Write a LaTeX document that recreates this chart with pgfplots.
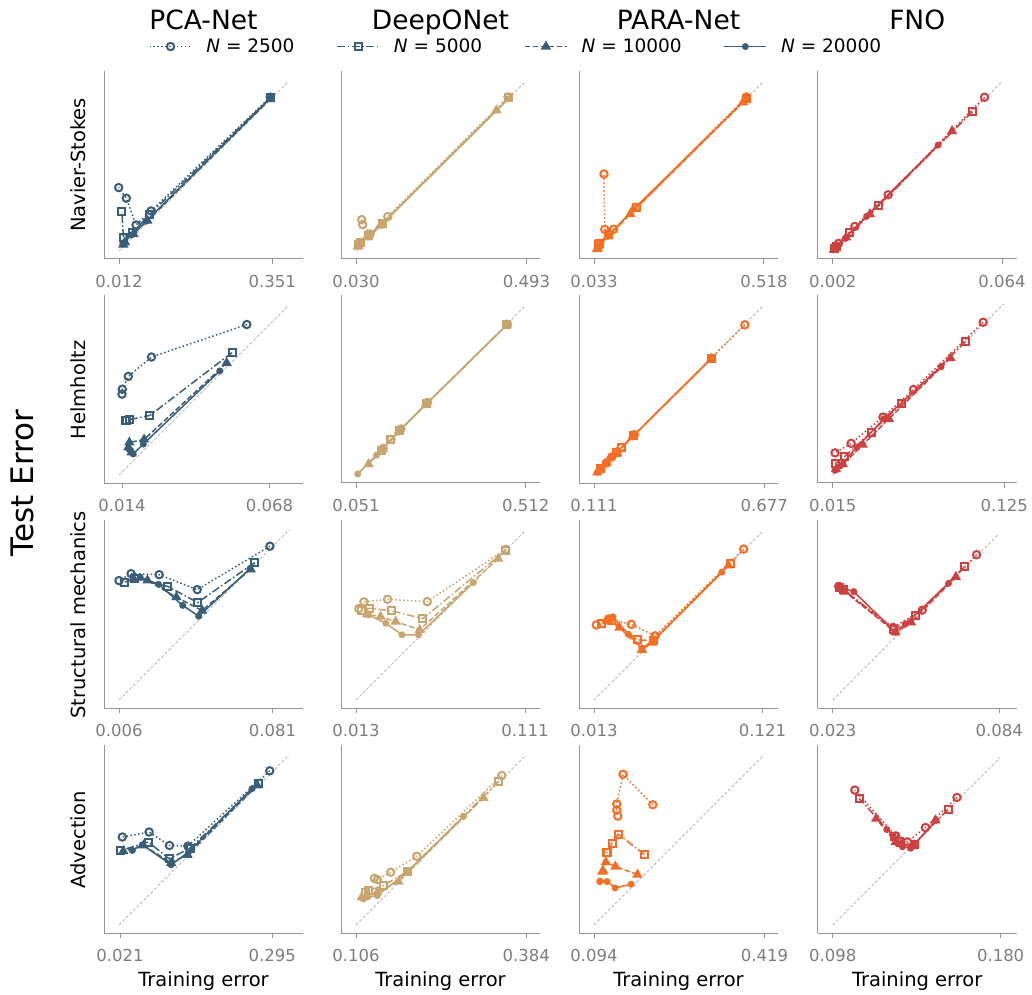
\documentclass[border=0pt]{standalone}
\usepackage{fontspec}
\setmainfont{DejaVu Sans}
\usepackage{pgfplots}
\pgfplotsset{compat=1.18}
\definecolor{cpca}{RGB}{59,94,120}
\definecolor{cdeep}{RGB}{200,165,110}
\definecolor{cpara}{RGB}{245,110,35}
\definecolor{cfno}{RGB}{205,65,65}
\definecolor{spine}{RGB}{150,150,150}
\definecolor{ticktext}{RGB}{125,125,125}
\newcommand\setpanel[2]{%
 \pgfmathsetmacro\pxmin{#1-15*#2}%
 \pgfmathsetmacro\pxmax{#1+184*#2}%
 \pgfmathsetmacro\pymin{#1-8*#2}%
 \pgfmathsetmacro\pymax{#1+180*#2}}
\pgfplotsset{
  panel/.style={scale only axis, width=199pt, height=188pt, anchor=south west,
    axis x line*=bottom, axis y line*=left,
    axis line style={draw=spine, line width=1pt, -},
    ytick=\empty, tick align=outside, major tick length=5pt,
    scaled x ticks=false, scaled y ticks=false,
    xtick style={draw=spine, line width=1pt},
    xticklabel style={text=ticktext, font=\fontsize{16.5}{19}\selectfont, yshift=-8pt},
    /pgf/number format/assume math mode=true,
    clip=false, xmin=\pxmin, xmax=\pxmax, ymin=\pymin, ymax=\pymax},
  diag/.style={forget plot, no markers, color=black!28, line width=0.9pt, dash pattern=on 3pt off 2pt},
  s1/.style={color=#1, line width=1.5pt, dash pattern=on 1.5pt off 2.4pt, mark=o, mark size=3.7pt, mark options={solid, line width=2pt}},
  s2/.style={color=#1, line width=1.5pt, dash pattern=on 8pt off 2.5pt on 1.5pt off 2.5pt, mark=square, mark size=3.5pt, mark options={solid, line width=2pt}},
  s3/.style={color=#1, line width=1.5pt, dash pattern=on 5.5pt off 2.5pt, mark=triangle*, mark size=4.5pt, mark options={solid}},
  s4/.style={color=#1, line width=1.5pt, solid, mark=*, mark size=2.7pt},
}
\begin{document}
\begin{tikzpicture}
\useasboundingbox (0,0) rectangle (1032pt,994pt);
% ================= Row 1: Navier-Stokes =================
\setpanel{0.012}{0.0022157}
\begin{axis}[panel, at={(104pt,735pt)}, xtick={0.012,0.351}, xticklabels={0.012,0.351},
  legend image code/.code={\draw[mark repeat=2,mark phase=2,#1] plot coordinates {(0pt,0pt) (21pt,0pt) (42pt,0pt)};},
  legend style={at={(2.070,1.13)}, anchor=center, draw=none, fill=none, legend columns=4,
    font=\fontsize{18.5}{22}\selectfont,
    /tikz/every odd column/.append style={column sep=12pt},
    /tikz/every even column/.append style={column sep=40pt}}]
\addplot[diag] coordinates {(0.012,0.012) (0.3876,0.3876)};
\addplot[s1=cpca] coordinates {(0.3466,0.3525) (0.0829,0.1006) (0.0497,0.0696) (0.0282,0.1288) (0.0113,0.1523)};
\addlegendentry{\textit{N} = 2500}
\addplot[s2=cpca] coordinates {(0.3466,0.3508) (0.0792,0.0925) (0.0423,0.0534) (0.0216,0.0423) (0.0186,0.0984)};
\addlegendentry{\textit{N} = 5000}
\addplot[s3=cpca] coordinates {(0.3466,0.3480) (0.0748,0.0791) (0.0437,0.0497) (0.0253,0.0313) (0.0216,0.0261)};
\addlegendentry{\textit{N} = 10000}
\addplot[s4=cpca] coordinates {(0.3466,0.3500) (0.0718,0.0778) (0.0401,0.0475) (0.0238,0.0313) (0.0202,0.0275)};
\addlegendentry{\textit{N} = 20000}
\end{axis}
\setpanel{0.030}{0.0027235}
\begin{axis}[panel, at={(341pt,735pt)}, xtick={0.030,0.493}, xticklabels={0.030,0.493}]
\addplot[diag] coordinates {(0.030,0.030) (0.4916,0.4916)};
\addplot[s1=cdeep] coordinates {(0.4431,0.4486) (0.1163,0.1234) (0.0681,0.0763) (0.0482,0.1017) (0.0455,0.1153)};
\addplot[s2=cdeep] coordinates {(0.4431,0.4459) (0.1027,0.1054) (0.0635,0.0717) (0.0409,0.0536) (0.0364,0.0473)};
\addplot[s3=cdeep] coordinates {(0.4113,0.4121) (0.0954,0.0990) (0.0590,0.0672) (0.0409,0.0491) (0.0345,0.0418)};
\addplot[s4=cdeep] coordinates {(0.4448,0.4440) (0.1000,0.1017) (0.0635,0.0690) (0.0427,0.0509) (0.0364,0.0445)};
\end{axis}
\setpanel{0.033}{0.002853}
\begin{axis}[panel, at={(579pt,735pt)}, xtick={0.033,0.518}, xticklabels={0.033,0.518}]
\addplot[diag] coordinates {(0.033,0.033) (0.5166,0.5166)};
\addplot[s1=cpara] coordinates {(0.4676,0.4724) (0.1538,0.1576) (0.0892,0.0949) (0.0635,0.0949) (0.0615,0.2527)};
\addplot[s2=cpara] coordinates {(0.4676,0.4695) (0.1538,0.1557) (0.0749,0.0787) (0.0492,0.0549) (0.0464,0.0510)};
\addplot[s3=cpara] coordinates {(0.4581,0.4572) (0.1366,0.1386) (0.0721,0.0749) (0.0435,0.0406) (0.0416,0.0387)};
\addplot[s4=cpara] coordinates {(0.4676,0.4676) (0.1461,0.1528) (0.0721,0.0749) (0.0464,0.0482) (0.0435,0.0435)};
\end{axis}
\setpanel{0.002}{0.000365}
\begin{axis}[panel, at={(817.7pt,735pt)}, xtick={0.002,0.064}, xticklabels={0.002,0.064}]
\addplot[diag] coordinates {(0.002,0.002) (0.0639,0.0639)};
\addplot[s1=cfno] coordinates {(0.0576,0.0583) (0.0223,0.0226) (0.0101,0.0110) (0.0041,0.0048) (0.0030,0.0035)};
\addplot[s2=cfno] coordinates {(0.0531,0.0530) (0.0187,0.0185) (0.0083,0.0086) (0.0035,0.0038) (0.0026,0.0028)};
\addplot[s3=cfno] coordinates {(0.0457,0.0459) (0.0156,0.0155) (0.0069,0.0070) (0.0031,0.0032) (0.0024,0.0025)};
\addplot[s4=cfno] coordinates {(0.0406,0.0408) (0.0144,0.0147) (0.0066,0.0066) (0.0029,0.0030) (0.0023,0.0024)};
\end{axis}
% ================= Row 2: Helmholtz =================
\setpanel{0.0129}{0.000365}
\begin{axis}[panel, at={(104pt,511pt)}, xtick={0.014,0.068}, xticklabels={0.014,0.068}]
\addplot[diag] coordinates {(0.0129,0.0129) (0.0748,0.0748)};
\addplot[s1=cpca] coordinates {(0.0597,0.0680) (0.0248,0.0561) (0.0163,0.0490) (0.0141,0.0443) (0.0140,0.0425)};
\addplot[s2=cpca] coordinates {(0.0543,0.0577) (0.0242,0.0347) (0.0167,0.0332) (0.0152,0.0329) (0.0158,0.0330)};
\addplot[s3=cpca] coordinates {(0.0523,0.0539) (0.0221,0.0259) (0.0167,0.0248) (0.0163,0.0230) (0.0175,0.0212)};
\addplot[s4=cpca] coordinates {(0.0498,0.0510) (0.0218,0.0242) (0.0181,0.0206) (0.0172,0.0218) (0.0167,0.0222)};
\end{axis}
\setpanel{0.051}{0.002712}
\begin{axis}[panel, at={(341pt,511pt)}, xtick={0.051,0.512}, xticklabels={0.051,0.512}]
\addplot[diag] coordinates {(0.051,0.051) (0.5107,0.5107)};
\addplot[s1=cdeep] coordinates {(0.4623,0.4597) (0.2454,0.2481) (0.1730,0.1760) (0.1459,0.1478) (0.1250,0.1230)};
\addplot[s2=cdeep] coordinates {(0.4610,0.4590) (0.2430,0.2450) (0.1703,0.1730) (0.1459,0.1478) (0.1200,0.1180)};
\addplot[s3=cdeep] coordinates {(0.4600,0.4580) (0.2420,0.2440) (0.1680,0.1700) (0.1234,0.1207) (0.0854,0.0808)};
\addplot[s4=cdeep] coordinates {(0.4590,0.4570) (0.2400,0.2420) (0.1650,0.1670) (0.1071,0.1052) (0.0556,0.0537)};
\end{axis}
\setpanel{0.111}{0.003329}
\begin{axis}[panel, at={(579pt,511pt)}, xtick={0.111,0.677}, xticklabels={0.111,0.677}]
\addplot[diag] coordinates {(0.111,0.111) (0.6753,0.6753)};
\addplot[s1=cpara] coordinates {(0.6127,0.6104) (0.2450,0.2450) (0.2019,0.2030) (0.1699,0.1710) (0.1520,0.1510)};
\addplot[s2=cpara] coordinates {(0.5028,0.4995) (0.2419,0.2419) (0.2019,0.2019) (0.1866,0.1866) (0.1333,0.1333)};
\addplot[s3=cpara] coordinates {(0.5010,0.4980) (0.2400,0.2390) (0.1866,0.1850) (0.1520,0.1510) (0.1220,0.1200)};
\addplot[s4=cpara] coordinates {(0.4990,0.4970) (0.2380,0.2370) (0.1699,0.1699) (0.1333,0.1320) (0.1220,0.1200)};
\end{axis}
\setpanel{0.015}{0.000647}
\begin{axis}[panel, at={(817.7pt,511pt)}, xtick={0.015,0.125}, xticklabels={0.015,0.125}]
\addplot[diag] coordinates {(0.015,0.015) (0.1247,0.1247)};
\addplot[s1=cfno] coordinates {(0.1114,0.1129) (0.0668,0.0698) (0.0472,0.0521) (0.0268,0.0353) (0.0165,0.0292)};
\addplot[s2=cfno] coordinates {(0.1002,0.1006) (0.0592,0.0607) (0.0396,0.0424) (0.0226,0.0268) (0.0165,0.0223)};
\addplot[s3=cfno] coordinates {(0.0905,0.0899) (0.0510,0.0510) (0.0342,0.0344) (0.0215,0.0219) (0.0171,0.0187)};
\addplot[s4=cfno] coordinates {(0.0844,0.0844) (0.0478,0.0510) (0.0305,0.0327) (0.0197,0.0208) (0.0165,0.0180)};
\end{axis}
% ================= Row 3: Structural mechanics =================
\setpanel{0.006}{0.000491}
\begin{axis}[panel, at={(104pt,286pt)}, xtick={0.006,0.081}, xticklabels={0.006,0.081}]
\addplot[diag] coordinates {(0.006,0.006) (0.0892,0.0892)};
\addplot[s1=cpca] coordinates {(0.0797,0.0811) (0.0442,0.0599) (0.0256,0.0672) (0.0119,0.0677) (0.0060,0.0643)};
\addplot[s2=cpca] coordinates {(0.0723,0.0731) (0.0444,0.0536) (0.0297,0.0615) (0.0135,0.0653) (0.0089,0.0636)};
\addplot[s3=cpca] coordinates {(0.0703,0.0698) (0.0466,0.0497) (0.0340,0.0562) (0.0199,0.0644) (0.0130,0.0653)};
\addplot[s4=cpca] coordinates {(0.0700,0.0702) (0.0449,0.0469) (0.0371,0.0522) (0.0253,0.0625) (0.0163,0.0660)};
\end{axis}
\setpanel{0.013}{0.000576}
\begin{axis}[panel, at={(341pt,286pt)}, xtick={0.013,0.111}, xticklabels={0.013,0.111}]
\addplot[diag] coordinates {(0.013,0.013) (0.1106,0.1106)};
\addplot[s1=cdeep] coordinates {(0.0998,0.1004) (0.0543,0.0700) (0.0313,0.0714) (0.0176,0.0699) (0.0146,0.0660)};
\addplot[s2=cdeep] coordinates {(0.0998,0.0998) (0.0518,0.0602) (0.0336,0.0647) (0.0211,0.0662) (0.0163,0.0647)};
\addplot[s3=cdeep] coordinates {(0.0955,0.0950) (0.0499,0.0537) (0.0360,0.0585) (0.0272,0.0614) (0.0195,0.0627)};
\addplot[s4=cdeep] coordinates {(0.0811,0.0811) (0.0493,0.0508) (0.0397,0.0508) (0.0303,0.0575) (0.0201,0.0624)};
\end{axis}
\setpanel{0.013}{0.000635}
\begin{axis}[panel, at={(579pt,286pt)}, xtick={0.013,0.121}, xticklabels={0.013,0.121}]
\addplot[diag] coordinates {(0.013,0.013) (0.1206,0.1206)};
\addplot[s1=cpara] coordinates {(0.1089,0.1097) (0.0522,0.0541) (0.0369,0.0615) (0.0223,0.0649) (0.0145,0.0611)};
\addplot[s2=cpara] coordinates {(0.1006,0.1006) (0.0509,0.0511) (0.0409,0.0515) (0.0240,0.0642) (0.0176,0.0621)};
\addplot[s3=cpara] coordinates {(0.0992,0.0992) (0.0500,0.0498) (0.0437,0.0452) (0.0293,0.0594) (0.0219,0.0636)};
\addplot[s4=cpara] coordinates {(0.0949,0.0949) (0.0504,0.0505) (0.0437,0.0462) (0.0350,0.0551) (0.0251,0.0663)};
\end{axis}
\setpanel{0.023}{0.000359}
\begin{axis}[panel, at={(817.7pt,286pt)}, xtick={0.023,0.084}, xticklabels={0.023,0.084}]
\addplot[diag] coordinates {(0.023,0.023) (0.0839,0.0839)};
\addplot[s1=cfno] coordinates {(0.0757,0.0762) (0.0558,0.0559) (0.0451,0.0496) (0.0256,0.0643) (0.0252,0.0646)};
\addplot[s2=cfno] coordinates {(0.0711,0.0717) (0.0532,0.0538) (0.0454,0.0487) (0.0268,0.0636) (0.0256,0.0643)};
\addplot[s3=cfno] coordinates {(0.0681,0.0681) (0.0517,0.0514) (0.0460,0.0478) (0.0274,0.0627) (0.0259,0.0639)};
\addplot[s4=cfno] coordinates {(0.0654,0.0657) (0.0496,0.0508) (0.0460,0.0478) (0.0307,0.0627) (0.0254,0.0645)};
\end{axis}
% ================= Row 4: Advection =================
\setpanel{0.0192}{0.001806}
\begin{axis}[panel, at={(104pt,61pt)}, xtick={0.021,0.295}, xticklabels={0.021,0.295}]
\addplot[diag] coordinates {(0.0192,0.0192) (0.3253,0.3253)};
\addplot[s1=cpca] coordinates {(0.2906,0.2968) (0.1433,0.1613) (0.1101,0.1624) (0.0734,0.1866) (0.0252,0.1776)};
\addplot[s2=cpca] coordinates {(0.2708,0.2739) (0.1474,0.1577) (0.1095,0.1384) (0.0721,0.1686) (0.0222,0.1534)};
\addplot[s3=cpca] coordinates {(0.2679,0.2708) (0.1426,0.1456) (0.1131,0.1312) (0.0631,0.1624) (0.0270,0.1523)};
\addplot[s4=cpca] coordinates {(0.2589,0.2648) (0.1444,0.1505) (0.1131,0.1276) (0.0613,0.1637) (0.0432,0.1534)};
\end{axis}
\setpanel{0.106}{0.001635}
\begin{axis}[panel, at={(341pt,61pt)}, xtick={0.106,0.384}, xticklabels={0.106,0.384}]
\addplot[diag] coordinates {(0.106,0.106) (0.3831,0.3831)};
\addplot[s1=cdeep] coordinates {(0.3442,0.3501) (0.2052,0.2183) (0.1627,0.1922) (0.1408,0.1801) (0.1359,0.1823)};
\addplot[s2=cdeep] coordinates {(0.3387,0.3403) (0.1905,0.1938) (0.1506,0.1703) (0.1261,0.1621) (0.1207,0.1595)};
\addplot[s3=cdeep] coordinates {(0.3141,0.3137) (0.1752,0.1768) (0.1408,0.1595) (0.1235,0.1551) (0.1153,0.1513)};
\addplot[s4=cdeep] coordinates {(0.2814,0.2831) (0.1889,0.1922) (0.1408,0.1540) (0.1250,0.1520) (0.1180,0.1485)};
\end{axis}
\setpanel{0.094}{0.001912}
\begin{axis}[panel, at={(579pt,61pt)}, xtick={0.094,0.419}, xticklabels={0.094,0.419}]
\addplot[diag] coordinates {(0.094,0.094) (0.4181,0.4181)};
\addplot[s1=cpara] coordinates {(0.2062,0.3234) (0.1494,0.3814) (0.1374,0.3248) (0.1374,0.3133) (0.1393,0.3018)};
\addplot[s2=cpara] coordinates {(0.1902,0.2285) (0.1399,0.2674) (0.1284,0.2502) (0.1189,0.2330) (0.1180,0.2320)};
\addplot[s3=cpara] coordinates {(0.1768,0.1902) (0.1348,0.2055) (0.1164,0.2138) (0.1112,0.1979) (0.1100,0.1960)};
\addplot[s4=cpara] coordinates {(0.1647,0.1718) (0.1342,0.1647) (0.1189,0.1768) (0.1049,0.1768) (0.1055,0.1778)};
\end{axis}
\setpanel{0.098}{0.000482}
\begin{axis}[panel, at={(817.7pt,61pt)}, xtick={0.098,0.180}, xticklabels={0.098,0.180}]
\addplot[diag] coordinates {(0.098,0.098) (0.1797,0.1797)};
\addplot[s1=cfno] coordinates {(0.1587,0.1603) (0.1433,0.1456) (0.1345,0.1386) (0.1288,0.1415) (0.1088,0.1639)};
\addplot[s2=cfno] coordinates {(0.1543,0.1544) (0.1377,0.1375) (0.1304,0.1386) (0.1280,0.1410) (0.1109,0.1598)};
\addplot[s3=cfno] coordinates {(0.1481,0.1491) (0.1377,0.1370) (0.1313,0.1375) (0.1288,0.1386) (0.1192,0.1499)};
\addplot[s4=cfno] coordinates {(0.1485,0.1491) (0.1361,0.1355) (0.1321,0.1362) (0.1273,0.1419) (0.1244,0.1446)};
\end{axis}
% ================= Texts =================
\begin{scope}[font=\fontsize{26.5}{30}\selectfont]
\node[anchor=base] at (203.5pt,964pt) {PCA-Net};
\node[anchor=base] at (440.5pt,964pt) {DeepONet};
\node[anchor=base] at (678.5pt,964pt) {PARA-Net};
\node[anchor=base] at (917.2pt,964pt) {FNO};
\end{scope}
\begin{scope}[font=\fontsize{19.5}{23}\selectfont]
\node[anchor=base] at (203.5pt,8pt) {Training error};
\node[anchor=base] at (440.5pt,8pt) {Training error};
\node[anchor=base] at (678.5pt,8pt) {Training error};
\node[anchor=base] at (917.2pt,8pt) {Training error};
\node[rotate=90, anchor=base] at (85pt,829pt) {Navier-Stokes};
\node[rotate=90, anchor=base] at (85pt,604pt) {Helmholtz};
\node[rotate=90, anchor=base] at (85pt,379pt) {Structural mechanics};
\node[rotate=90, anchor=base] at (85pt,154pt) {Advection};
\end{scope}
\node[rotate=90, anchor=base, font=\fontsize{31}{36}\selectfont] at (33.3pt,511pt) {Test Error};
\end{tikzpicture}
\end{document}
